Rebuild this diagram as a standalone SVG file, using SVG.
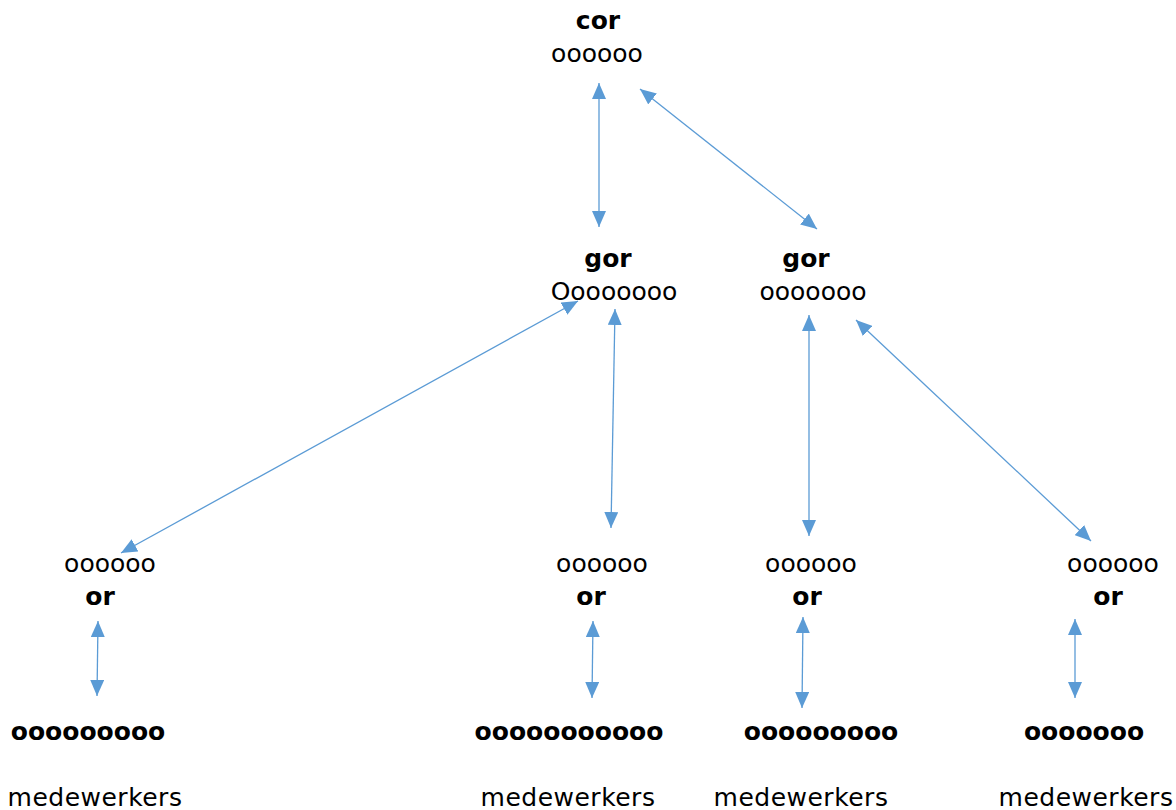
<svg xmlns="http://www.w3.org/2000/svg" width="1176" height="810" viewBox="0 0 1176 810">
<style>
text{font-family:"DejaVu Sans",Verdana,sans-serif;font-size:25px;fill:#000;text-anchor:middle}
.b{font-weight:bold}
.m{letter-spacing:0.5px}
.c line{stroke:#5B9BD5;stroke-width:1.3;marker-start:url(#ah);marker-end:url(#ah)}
</style>
<defs>
<marker id="ah" viewBox="0 0 16 14" refX="16" refY="7" markerWidth="16" markerHeight="14" markerUnits="userSpaceOnUse" orient="auto-start-reverse">
<path d="M0,0 L16,7 L0,14 z" fill="#5B9BD5"/>
</marker>
</defs>
<rect width="1176" height="810" fill="#fff"/>
<g id="cor"><text class="b" x="598" y="29">cor</text><text x="597" y="62">oooooo</text></g>
<g id="gor1"><text class="b" x="608" y="267">gor</text><text x="614" y="300">Oooooooo</text></g>
<g id="gor2"><text class="b" x="806" y="267">gor</text><text x="813" y="300">ooooooo</text></g>
<g id="or1"><text x="110" y="572">oooooo</text><text class="b" x="100" y="605">or</text></g>
<g id="or2"><text x="602" y="572">oooooo</text><text class="b" x="591" y="605">or</text></g>
<g id="or3"><text x="811" y="572">oooooo</text><text class="b" x="807" y="605">or</text></g>
<g id="or4"><text x="1113" y="572">oooooo</text><text class="b" x="1108" y="605">or</text></g>
<g id="team1"><text class="b" x="88" y="740">ooooooooo</text><text class="m" x="95" y="806">medewerkers</text></g>
<g id="team2"><text class="b" x="569" y="740">ooooooooooo</text><text class="m" x="568" y="806">medewerkers</text></g>
<g id="team3"><text class="b" x="821" y="740">ooooooooo</text><text class="m" x="801" y="806">medewerkers</text></g>
<g id="team4"><text class="b" x="1084" y="740">ooooooo</text><text class="m" x="1086" y="806">medewerkers</text></g>
<g id="connectors" class="c">
<line x1="599" y1="83" x2="599" y2="227"/>
<line x1="640" y1="89" x2="817" y2="229"/>
<line x1="578" y1="301" x2="121" y2="553"/>
<line x1="615" y1="309" x2="611" y2="528"/>
<line x1="809" y1="315" x2="809" y2="536"/>
<line x1="856" y1="320" x2="1091" y2="541"/>
<line x1="98" y1="621" x2="97" y2="696"/>
<line x1="593" y1="621" x2="592" y2="698"/>
<line x1="803" y1="617" x2="802" y2="708"/>
<line x1="1075" y1="619" x2="1075" y2="698"/>
</g>
</svg>
